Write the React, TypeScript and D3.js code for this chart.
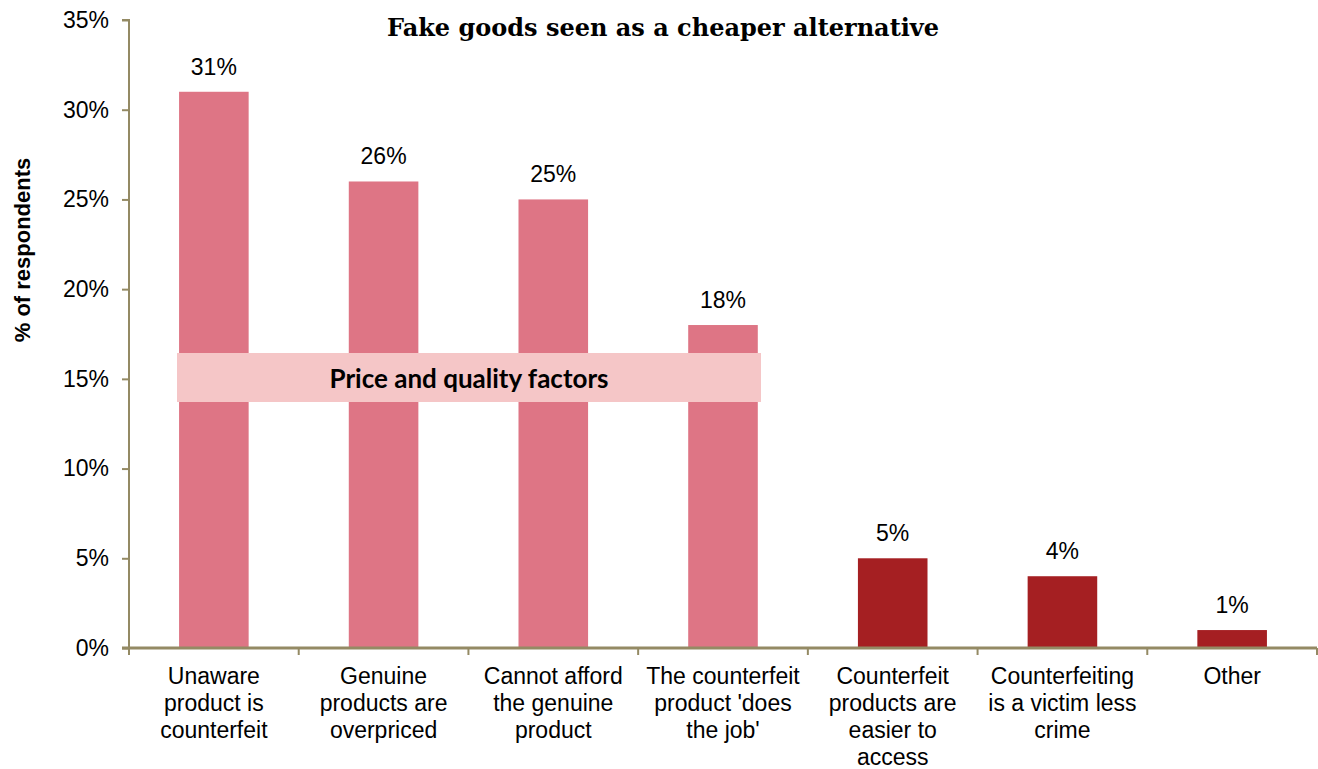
import React, { useEffect, useRef } from "react";
import * as d3 from "d3";

const categories = [
  ["Unaware", "product is", "counterfeit"],
  ["Genuine", "products are", "overpriced"],
  ["Cannot afford", "the genuine", "product"],
  ["The counterfeit", "product 'does", "the job'"],
  ["Counterfeit", "products are", "easier to", "access"],
  ["Counterfeiting", "is a victim less", "crime"],
  ["Other"],
];
const values = [31, 26, 25, 18, 5, 4, 1];
const groups = ["price", "price", "price", "price", "other", "other", "other"];
const yTicks = [0, 5, 10, 15, 20, 25, 30, 35];

const title = "Fake goods seen as a cheaper alternative";
const yTitle = "% of respondents";
const bannerText = "Price and quality factors";

const App = () => {
  const svgRef = useRef<SVGSVGElement>(null);

  useEffect(() => {
    const svg = d3.select(svgRef.current);
    svg.selectAll("*").remove();

    const w = 1318;
    const h = 769;
    const left = 129;
    const right = 1317;
    const top = 20;
    const bottom = 648;
    const axisColor = "#948A64";
    const font = "'Liberation Sans', Arial, sans-serif";

    svg.attr("width", w).attr("height", h).style("background", "#fff");

    // scales
    const ids = values.map((_, i) => String(i));
    const x = d3.scaleBand().domain(ids).range([left, right]).paddingInner(0.59).paddingOuter(0.295);
    const xOuter = d3.scaleBand().domain(ids).range([left, right]);
    const y = d3.scaleLinear().domain([0, 35]).range([bottom, top]);
    const color = d3.scaleOrdinal<string>().domain(["price", "other"]).range(["#DE7585", "#A51F22"]);

    // bars
    svg
      .selectAll(".bar")
      .data(values)
      .join("rect")
      .attr("x", (_, i) => x(String(i))!)
      .attr("y", (d) => y(d))
      .attr("width", x.bandwidth())
      .attr("height", (d) => bottom - y(d))
      .attr("fill", (_, i) => color(groups[i]));

    // value labels
    svg
      .selectAll(".val")
      .data(values)
      .join("text")
      .attr("x", (_, i) => x(String(i))! + x.bandwidth() / 2)
      .attr("y", (d) => y(d) - 17)
      .attr("text-anchor", "middle")
      .style("font-family", font)
      .style("font-size", "23px")
      .attr("fill", "#000")
      .text((d) => `${d}%`);

    // y axis
    const yAxis = d3
      .axisLeft(y)
      .tickValues(yTicks)
      .tickSize(7)
      .tickPadding(13)
      .tickFormat((d) => `${d}%`);
    const gy = svg.append("g").attr("transform", `translate(${left},0)`).call(yAxis);
    gy.selectAll("path,line").attr("stroke", axisColor).attr("stroke-width", 2);
    gy.select(".domain").attr("d", `M-7,${top}H0V${bottom}`);
    gy.selectAll("text").style("font-family", font).style("font-size", "23px").attr("fill", "#000");

    // x axis
    const gx = svg.append("g");
    gx.append("line")
      .attr("x1", left - 7)
      .attr("x2", right)
      .attr("y1", bottom)
      .attr("y2", bottom)
      .attr("stroke", axisColor)
      .attr("stroke-width", 3);
    const bounds = [...ids.map((id) => xOuter(id)!), right];
    gx.selectAll(".tick")
      .data(bounds)
      .join("line")
      .attr("x1", (d) => d)
      .attr("x2", (d) => d)
      .attr("y1", bottom)
      .attr("y2", bottom + 7)
      .attr("stroke", axisColor)
      .attr("stroke-width", 2);

    const labels = gx
      .selectAll(".xl")
      .data(categories)
      .join("text")
      .attr("x", (_, i) => xOuter(String(i))! + xOuter.bandwidth() / 2)
      .attr("y", 684)
      .attr("text-anchor", "middle")
      .style("font-family", font)
      .style("font-size", "23px")
      .attr("fill", "#000");
    labels
      .selectAll("tspan")
      .data((d) => d)
      .join("tspan")
      .attr("x", function () {
        return (this.parentNode as SVGTextElement).getAttribute("x");
      })
      .attr("dy", (_, j) => (j === 0 ? 0 : 27))
      .text((d) => d);

    // banner
    svg
      .append("rect")
      .attr("x", 177)
      .attr("y", 353)
      .attr("width", 584)
      .attr("height", 49)
      .attr("fill", "#F5C6C7");
    svg
      .append("text")
      .attr("x", 469)
      .attr("y", 388)
      .attr("text-anchor", "middle")
      .style("font-family", "Lato, 'Open Sans', sans-serif")
      .style("font-weight", "bold")
      .style("font-size", "26px")
      .attr("fill", "#000")
      .text(bannerText);

    // title
    svg
      .append("text")
      .attr("x", 663)
      .attr("y", 36)
      .attr("text-anchor", "middle")
      .style("font-family", "'DejaVu Serif', Georgia, serif")
      .style("font-weight", "bold")
      .style("font-size", "24px")
      .attr("fill", "#000")
      .text(title);

    // y title
    svg
      .append("text")
      .attr("transform", `translate(30,250) rotate(-90)`)
      .attr("text-anchor", "middle")
      .style("font-family", font)
      .style("font-weight", "bold")
      .style("font-size", "22px")
      .attr("fill", "#000")
      .text(yTitle);
  }, []);

  return <svg ref={svgRef} style={{ position: "absolute", left: 0, top: 0, display: "block" }}></svg>;
};

export default App;
